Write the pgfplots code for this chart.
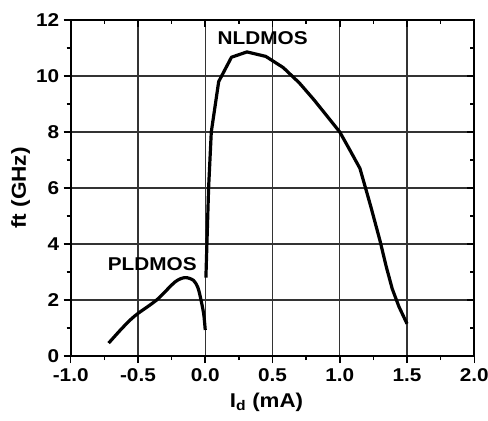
\documentclass[border=0pt]{standalone}
\usepackage{pgfplots}
\pgfplotsset{compat=1.18}
\usepackage{fontspec}
\setmainfont{Liberation Sans}[FakeStretch=1.12]
\begin{document}
\begin{tikzpicture}[font=\fontsize{18.6}{22}\selectfont\bfseries]
\useasboundingbox (-70.7bp,-65bp) rectangle (417.3bp,356bp);
\pgfplotsset{
  common/.style={
    at={(0,0)}, anchor=south west, scale only axis,
    width=403.6bp, height=336bp,
    xmin=-1, xmax=2, ymin=0, ymax=12,
    xtick={-1,-0.5,0,0.5,1,1.5,2}, ytick={0,2,4,6,8,10,12},
    minor x tick num=1, minor y tick num=1,
    major tick length=7bp, minor tick length=4bp,
    axis line style={line width=2bp},
    tick style={line width=1.6bp, black},
    /pgf/number format/assume math mode=true,
  }
}
\begin{axis}[common,
    xtick pos=left, ytick pos=left, tick align=outside,
    xmajorgrids=true, ymajorgrids=true,
    grid style={draw=black!80, line width=1.3bp},
    major grid style={draw=black!80, line width=1.3bp},
    xticklabel={\pgfmathprintnumber[fixed,fixed zerofill,precision=1]{\tick}},
    yticklabel={\pgfmathprintnumber[fixed,precision=0]{\tick}},
    xticklabel style={font=\fontsize{18.6}{22}\selectfont\bfseries, yshift=-2bp},
    yticklabel style={font=\fontsize{18.6}{22}\selectfont\bfseries, xshift=-1bp},
    xlabel={I\textsubscript{d} (mA)},
    every axis x label/.style={at={([xshift=-6bp,yshift=-51bp]axis description cs:0.5,0)}, anchor=base, font=\fontsize{20}{24}\selectfont\bfseries},
    ylabel={ft (GHz)},
    every axis y label/.style={at={([xshift=-50bp]axis description cs:0,0.5)}, rotate=90, anchor=center, font=\fontsize{20.3}{24}\selectfont\bfseries},
  ]
\draw[black!80, line width=1.3bp] (axis cs:-1,2) -- (axis cs:2,2);
\draw[black!80, line width=1.3bp] (axis cs:-1,4) -- (axis cs:2,4);
\draw[black!80, line width=1.3bp] (axis cs:-1,6) -- (axis cs:2,6);
\draw[black!80, line width=1.3bp] (axis cs:-1,8) -- (axis cs:2,8);
\draw[black!80, line width=1.3bp] (axis cs:-1,10) -- (axis cs:2,10);
\addplot[black, line width=3.2bp, line join=round] coordinates {
(0.005,2.8) (0.025,6.0) (0.045,8.0) (0.1,9.8) (0.195,10.67) (0.31,10.86)
(0.45,10.7) (0.58,10.3) (0.7,9.75) (0.81,9.14) (0.9,8.6) (1.0,8.0)
(1.07,7.4) (1.15,6.7) (1.23,5.35) (1.3,4.1) (1.345,3.2) (1.39,2.4)
(1.44,1.76) (1.5,1.15)
};
\addplot[black, line width=3.2bp, smooth, tension=0.5, line join=round] coordinates {
(-0.718,0.46) (-0.63,0.93) (-0.557,1.29) (-0.5,1.52) (-0.42,1.79) (-0.347,2.06)
(-0.223,2.65) (-0.149,2.8) (-0.087,2.7) (-0.055,2.45) (-0.037,2.12) (-0.012,1.52)
(0.0,0.93)
};
\node at (axis cs:0.427,11.35) {NLDMOS};
\node at (axis cs:-0.394,3.29) {PLDMOS};
\end{axis}
\begin{axis}[common,
    xtick pos=right, ytick pos=right, tick align=inside,
    xticklabels={}, yticklabels={},
  ]
\end{axis}
\end{tikzpicture}
\end{document}
